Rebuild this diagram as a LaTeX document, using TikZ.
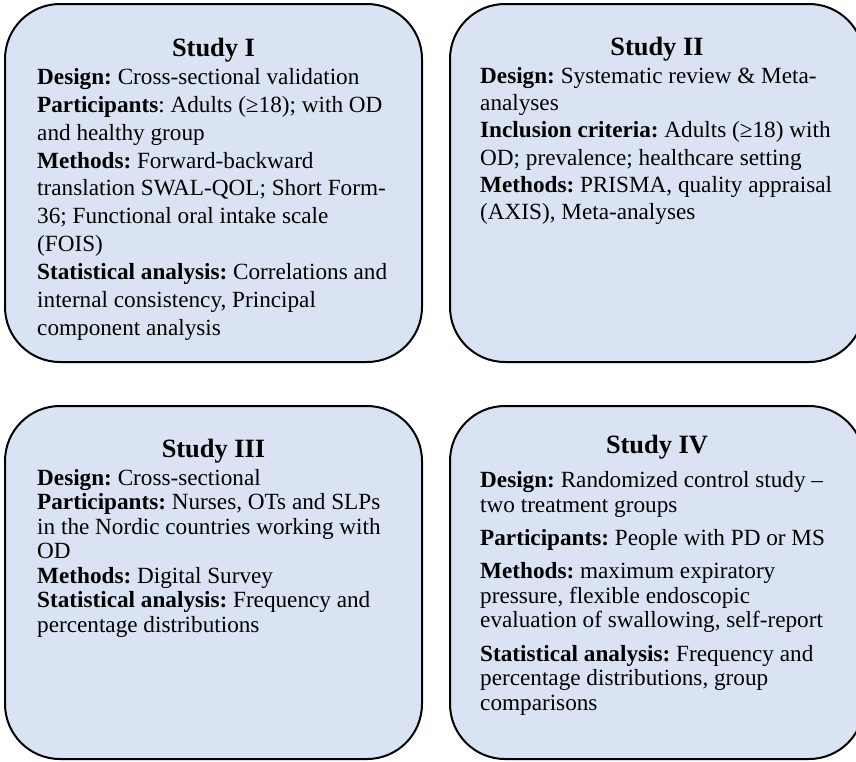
\documentclass[tikz,border=0pt]{standalone}
\usepackage{fontspec}
\setmainfont{Liberation Serif}
\definecolor{boxfill}{HTML}{DAE3F3}
\frenchspacing

\tikzset{
  studybox/.style={draw=black, line width=2pt, fill=boxfill,
    rounded corners=55pt, inner sep=0pt, outer sep=0pt, anchor=north west},
  studytitle/.style={font=\fontsize{26.4}{30}\selectfont\bfseries,
    inner sep=0pt, anchor=base},
  studytext/.style={font=\fontsize{23.2}{27.9}\selectfont, align=left,
    inner sep=0pt, anchor=north west},
}

\begin{document}
\begin{tikzpicture}[x=1pt,y=-1pt]
  \useasboundingbox (0,0) rectangle (856,761);
  \clip (0,0) rectangle (856,761);
  % the four boxes
  \node[studybox, minimum width=417pt, minimum height=358pt] (boxI) at (5,4) {};
  \node[studybox, minimum width=414pt, minimum height=358pt] (boxII) at (450,4) {};
  \node[studybox, minimum width=417pt, minimum height=353pt] (boxIII) at (5,406) {};
  \node[studybox, minimum width=414pt, minimum height=353pt] (boxIV) at (450,406) {};
  % titles
  \node[studytitle] (titleI) at (213.5,56) {Study I};
  \node[studytitle] (titleII) at (657,55) {Study II};
  \node[studytitle] (titleIII) at (213.5,457) {Study III};
  \node[studytitle] (titleIV) at (657,453) {Study IV};
  % texts
  \node[studytext] (textI) at (37,68) {%
    \textbf{Design:} Cross-sectional validation\\
    \textbf{Participants}: Adults (≥18); with OD\\
    and healthy group\\
    \textbf{Methods:} Forward-backward\\
    translation SWAL-QOL; Short Form-\\
    36; Functional oral intake scale\\
    (FOIS)\\
    \textbf{Statistical analysis:} Correlations and\\
    internal consistency, Principal\\
    component analysis};
  \node[studytext, font=\fontsize{23.2}{27.3}\selectfont] (textII) at (480,67) {%
    \textbf{Design:} Systematic review \& Meta-\\
    analyses\\
    \textbf{Inclusion criteria:} Adults (≥18) with\\
    OD; prevalence; healthcare setting\\
    \textbf{Methods:} PRISMA, quality appraisal\\
    (AXIS), Meta-analyses};
  \node[studytext, font=\fontsize{23.2}{24.5}\selectfont] (textIII) at (37,469) {%
    \textbf{Design:} Cross-sectional\\
    \textbf{Participants:} Nurses, OTs and SLPs\\
    in the Nordic countries working with\\
    OD\\
    \textbf{Methods:} Digital Survey\\
    \textbf{Statistical analysis:} Frequency and\\
    percentage distributions};
  \node[studytext, font=\fontsize{23.2}{24.5}\selectfont] (textIV) at (480,471.5) {%
    \textbf{Design:} Randomized control study –\\
    two treatment groups\\[8.8pt]
    \textbf{Participants:} People with PD or MS\\[8.8pt]
    \textbf{Methods:} maximum expiratory\\
    pressure, flexible endoscopic\\
    evaluation of swallowing, self-report\\[8.8pt]
    \textbf{Statistical analysis:} Frequency and\\
    percentage distributions, group\\
    comparisons};
\end{tikzpicture}
\end{document}
